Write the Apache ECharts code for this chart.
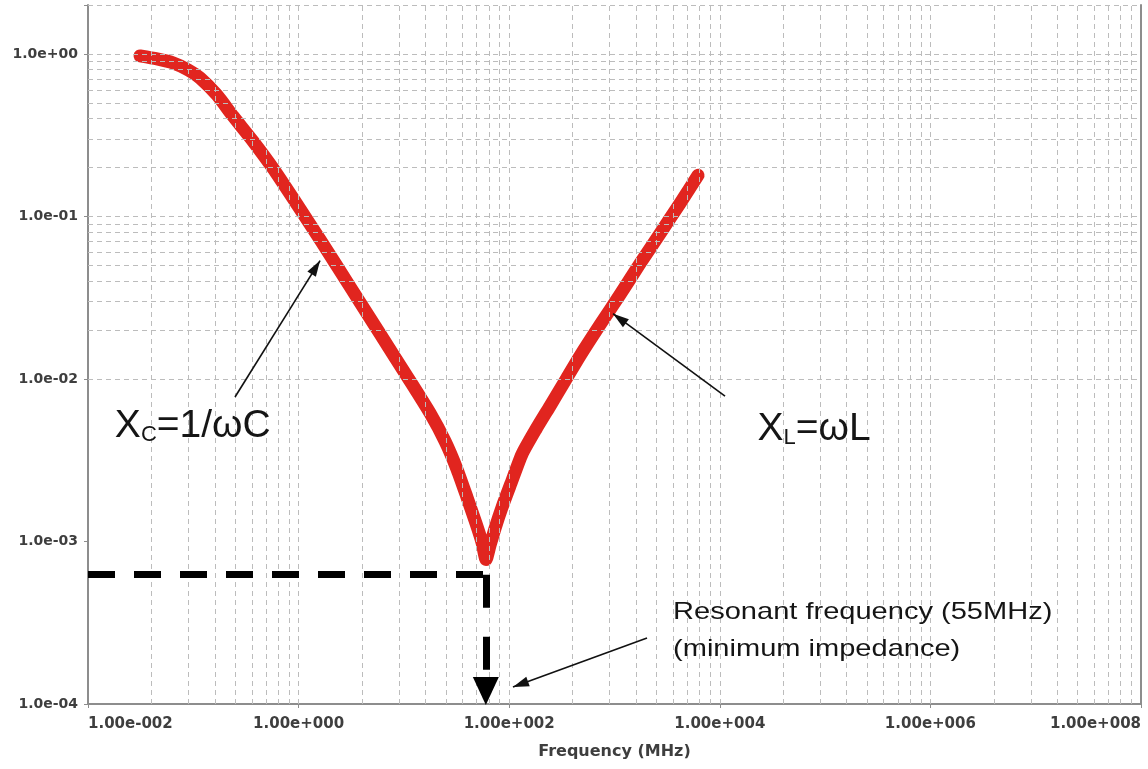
<!DOCTYPE html>
<html><head><meta charset="utf-8">
<script src="https://cdn.jsdelivr.net/npm/echarts@6/dist/echarts.min.js"></script>
<style>html,body{margin:0;padding:0;background:#fff;} #c{width:1148px;height:769px;}</style>
</head><body><div id="c"></div>
<script>
// ---- data ----
const freqMHz = [0.0312,0.0452,0.0641,0.0891,0.116,0.168,0.238,0.369,0.571,0.966,1.597,3.077,5.932,11.43,17.70,24.57,31.95,39.76,48.40,55.19,60.23,
  65.73,73.33,85.46,104.0,132.3,179.8,244.1,338.9,470.6,728.7,1128,1747,2706,4191,6209];
const impedance = [0.972,0.931,0.880,0.797,0.711,0.558,0.4144,0.2904,0.1978,0.1186,0.0721,0.0370,0.01895,0.00972,0.006166,0.004143,0.002782,0.001869,0.001291,0.000986,0.000774,
  0.000945,0.001203,0.001622,0.002280,0.003443,0.004913,0.006813,0.00972,0.01387,0.02154,0.0330,0.0513,0.0785,0.1203,0.1791];
const xTickValues = [1e-2, 1e0, 1e2, 1e4, 1e6, 1e8];
const xTickLabels = ['1.00e-002','1.00e+000','1.00e+002','1.00e+004','1.00e+006','1.00e+008'];
const yTickValues = [1e-4, 1e-3, 1e-2, 1e-1, 1e0];
const yTickLabels = ['1.0e-04','1.0e-03','1.0e-02','1.0e-01','1.0e+00'];
const resonanceMHz = 60;
const resonanceLevel = 6.25e-4;
const xcLabel = ['X','C','=1/ωC'];
const xlLabel = ['X','L','=ωL'];
const resonantText = ['Resonant frequency (55MHz)','(minimum impedance)'];

// ---- grid line positions (styling of the original software's grid) ----
const xGrid = [];
for (let a = -2; a <= 6; a += 2) for (let n = 2; n <= 9; n++) xGrid.push(n * n * Math.pow(10, a));
for (let a = 0; a <= 6; a += 2) xGrid.push(Math.pow(10, a));
const yGrid = [];
for (let a = -4; a <= -1; a++) for (let n = 2; n <= 9; n++) yGrid.push(n * Math.pow(10, a));
for (let a = -3; a <= 0; a++) yGrid.push(Math.pow(10, a));

const near = (a, b) => Math.abs(Math.log10(a) - Math.log10(b)) < 1e-6;
const fmtX = v => { const i = xTickValues.findIndex(t => near(t, v)); return i >= 0 ? xTickLabels[i] : ''; };
const fmtY = v => { const i = yTickValues.findIndex(t => near(t, v)); return i >= 0 ? yTickLabels[i] : ''; };

const gridStyle = { type: [5, 4], color: '#bcbcbc', width: 1 };
const axisColor = '#8d8d8d';
const labelFont = { fontFamily: 'DejaVu Sans', fontWeight: 'bold', color: '#3e3e3e' };
const annFont = 'Liberation Sans';
const richSub = {
  x: { fontSize: 39, fontFamily: annFont, color: '#151515', lineHeight: 46, verticalAlign: 'bottom' },
  s: { fontSize: 22, fontFamily: annFont, color: '#151515', lineHeight: 22, verticalAlign: 'bottom' }
};

const chart = echarts.init(document.getElementById('c'));
chart.setOption({
  animation: false,
  backgroundColor: '#fff',
  grid: { left: 88, right: 7, top: 5, bottom: 65 },
  xAxis: {
    type: 'log', logBase: 10, min: 1e-2, max: 1e8, interval: 2,
    axisLine: { lineStyle: { color: axisColor, width: 2 } },
    axisTick: { show: true, length: 4, interval: 0, lineStyle: { color: axisColor } },
    axisLabel: Object.assign({ formatter: fmtX, interval: 0, fontSize: 15, margin: 13,
      alignMinLabel: 'left', alignMaxLabel: 'right', showMinLabel: true, showMaxLabel: true, hideOverlap: false }, labelFont),
    splitLine: { show: false },
    name: 'Frequency (MHz)', nameLocation: 'middle', nameGap: 40,
    nameTextStyle: Object.assign({ fontSize: 16 }, labelFont)
  },
  yAxis: [{
    type: 'log', logBase: 10, min: 1e-4, max: 2, interval: 1,
    axisLine: { show: true, lineStyle: { color: axisColor, width: 2 } },
    axisTick: { show: true, length: 4, lineStyle: { color: axisColor } },
    axisLabel: Object.assign({ formatter: fmtY, interval: 0, fontSize: 14, margin: 10 }, labelFont),
    splitLine: { show: false }
  }, {
    type: 'log', logBase: 10, min: 1e-4, max: 2, interval: 1, position: 'right',
    axisLine: { show: true, lineStyle: { color: axisColor, width: 2 } },
    axisTick: { show: false }, axisLabel: { show: false }, splitLine: { show: false }
  }],
  series: [
    {
      type: 'line', data: [], z: 1, silent: true,
      markLine: {
        silent: true, symbol: ['none', 'none'], label: { show: false }, animation: false,
        lineStyle: gridStyle, emphasis: { disabled: true },
        data: xGrid.map(v => ({ xAxis: v })).concat(yGrid.map(v => ({ yAxis: v })), [{ yAxis: 2 }])
      }
    },
    {
      type: 'line', z: 3, silent: true,
      data: freqMHz.map((f, i) => [f, impedance[i]]),
      showSymbol: false, smooth: 0.2,
      lineStyle: { color: '#e1251f', width: 13, cap: 'round', join: 'round' }
    },
    {
      type: 'line', data: [], z: 4, silent: true,
      markLine: {
        silent: true, symbol: ['none', 'none'], label: { show: false }, animation: false,
        emphasis: { disabled: true },
        data: [
          [{ coord: [0.249, 0.00774], lineStyle: { color: '#111', width: 1.6, type: 'solid' } },
           { coord: [1.60, 0.0535], symbol: 'triangle', symbolSize: [10, 16], symbolOffset: [0, 8] }],
          [{ coord: [11210, 0.00785], lineStyle: { color: '#111', width: 1.6, type: 'solid' } },
           { coord: [968, 0.0252], symbol: 'triangle', symbolSize: [10, 16], symbolOffset: [0, 8] }],
          [{ coord: [2036, 2.55e-4], lineStyle: { color: '#111', width: 1.6, type: 'solid' } },
           { coord: [108.6, 1.273e-4], symbol: 'triangle', symbolSize: [10, 16], symbolOffset: [0, 8] }],
          [{ coord: [0.01, resonanceLevel], lineStyle: { color: '#000', width: 7, type: [27, 19] } },
           { coord: [resonanceMHz, resonanceLevel] }],
          [{ coord: [resonanceMHz, resonanceLevel], lineStyle: { color: '#000', width: 7, type: [33, 29] } },
           { coord: [resonanceMHz, 1.203e-4], symbol: 'triangle', symbolSize: [26, 28] }]
        ]
      },
      markPoint: {
        silent: true, animation: false, symbol: 'circle', symbolSize: 1,
        itemStyle: { color: 'rgba(0,0,0,0)' },
        data: [
          { coord: [0.0178, 0.005349], label: { show: true, position: 'right', distance: 0,
              formatter: '{x|' + xcLabel[0] + '}{s|' + xcLabel[1] + '}{x|' + xcLabel[2] + '}', rich: richSub } },
          { coord: [22570, 0.005128], label: { show: true, position: 'right', distance: 0,
              formatter: '{x|' + xlLabel[0] + '}{s|' + xlLabel[1] + '}{x|' + xlLabel[2] + '}', rich: richSub } }
        ]
      }
    }
  ]
});

// resonance caption: placed at data coordinates, drawn horizontally widened like the original
const captionCoords = [[3597, 3.65e-4], [3597, 2.155e-4]];
chart.setOption({
  graphic: resonantText.map((t, i) => {
    const p = chart.convertToPixel({ xAxisIndex: 0, yAxisIndex: 0 }, captionCoords[i]);
    return { type: 'text', x: p[0], y: p[1], scaleX: 1.21, silent: true, z: 10,
      style: { text: t, font: '24px "Liberation Sans"', fill: '#151515', textAlign: 'left', textVerticalAlign: 'middle' } };
  })
});
</script></body></html>
